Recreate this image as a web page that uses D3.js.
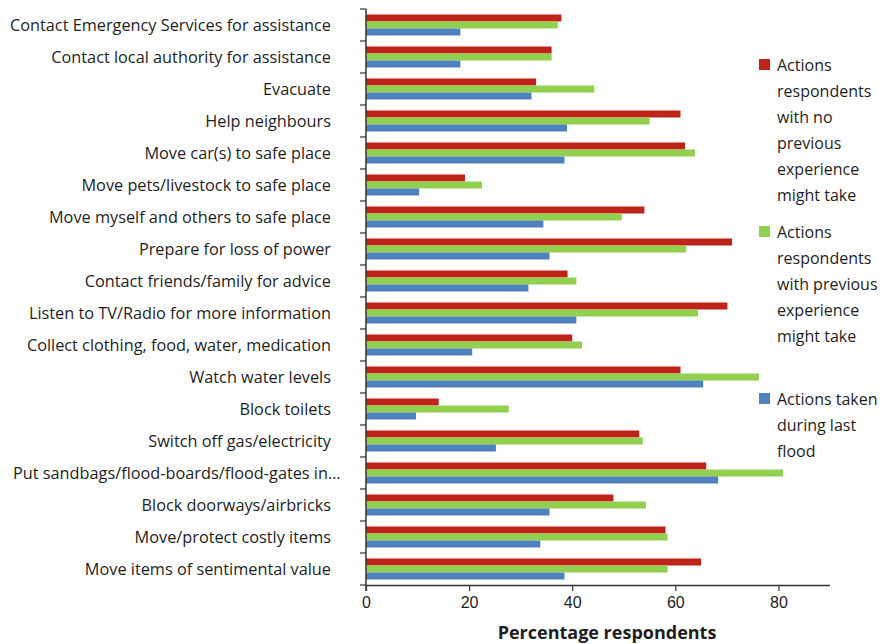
<!DOCTYPE html>
<html>
<head>
<meta charset="utf-8">
<script src="https://cdn.jsdelivr.net/npm/d3@7"></script>
<style>
  html, body { margin: 0; padding: 0; background: #fff; }
  svg { display: block; font-family: "Open Sans", Lato, sans-serif; }
</style>
</head>
<body>
<svg id="chart" width="886" height="644"></svg>
<script>
// Survey actions, listed top to bottom
const categories = [
  "Contact Emergency Services for assistance",
  "Contact local authority for assistance",
  "Evacuate",
  "Help neighbours",
  "Move car(s) to safe place",
  "Move pets/livestock to safe place",
  "Move myself and others to safe place",
  "Prepare for loss of power",
  "Contact friends/family for advice",
  "Listen to TV/Radio for more information",
  "Collect clothing, food, water, medication",
  "Watch water levels",
  "Block toilets",
  "Switch off gas/electricity",
  "Put sandbags/flood-boards/flood-gates in\u2026",
  "Block doorways/airbricks",
  "Move/protect costly items",
  "Move items of sentimental value"
];

// Percentage of respondents per series
const noExperience   = [37.9, 36.0, 33.0, 61.0, 61.9, 19.2, 54.0, 71.0, 39.1, 70.1, 40.0, 61.0, 14.1, 53.0, 66.0, 48.0, 58.1, 65.0];
const withExperience = [37.2, 36.0, 44.3, 55.0, 63.8, 22.5, 49.6, 62.1, 40.8, 64.4, 41.9, 76.2, 27.7, 53.7, 80.9, 54.3, 58.5, 58.5];
const lastFlood      = [18.3, 18.3, 32.1, 39.0, 38.5, 10.3, 34.4, 35.6, 31.5, 40.8, 20.6, 65.4,  9.7, 25.2, 68.3, 35.6, 33.8, 38.5];

const seriesNames = [
  "Actions respondents with no previous experience might take",
  "Actions respondents with previous experience might take",
  "Actions taken during last flood"
];
const legendLines = [
  ["Actions", "respondents", "with no", "previous", "experience", "might take"],
  ["Actions", "respondents", "with previous", "experience", "might take"],
  ["Actions taken", "during last", "flood"]
];
const xTicks = [0, 20, 40, 60, 80];
const xTitle = "Percentage respondents";

const colors = ["#C0231A", "#92D050", "#4F81BD"];
const seriesValues = [noExperience, withExperience, lastFlood];

const svg = d3.select("#chart");
const plot = { left: 366, right: 830, top: 9, bottom: 585 };
const textColor = "#1e1e1e";

const x = d3.scaleLinear().domain([0, 90]).range([plot.left, plot.right]);
const y = d3.scaleBand().domain(categories).range([plot.top, plot.bottom]).paddingInner(0).paddingOuter(0);
const barH = 7;
const inner = d3.scaleBand().domain([0, 1, 2]).range([0, barH * 3]);
const groupOffset = (y.bandwidth() - barH * 3) / 2;

const rows = categories.map((c, i) => ({ c, vals: seriesValues.map(s => s[i]) }));

// bars
const g = svg.append("g");
rows.forEach(r => {
  r.vals.forEach((v, k) => {
    g.append("rect")
      .attr("x", x(0))
      .attr("y", y(r.c) + groupOffset + inner(k))
      .attr("width", x(v) - x(0))
      .attr("height", inner.bandwidth())
      .attr("fill", colors[k]);
  });
});

// x axis
const xAxis = svg.append("g")
  .attr("transform", `translate(0,${plot.bottom})`)
  .call(d3.axisBottom(x).tickValues(xTicks).tickSize(6).tickPadding(6).tickFormat(d3.format("d")));
xAxis.select(".domain").attr("stroke", "#333").attr("stroke-width", 1.5)
  .attr("d", `M${plot.left},0.5H${plot.right}`);
xAxis.selectAll(".tick line").attr("stroke", "#333").attr("stroke-width", 1.2);
xAxis.selectAll(".tick text").attr("fill", textColor).style("font-size", "16px");

// y axis: ticks at category boundaries
const yAxis = svg.append("g").attr("transform", `translate(${plot.left},0)`);
yAxis.append("line")
  .attr("x1", 0).attr("x2", 0).attr("y1", plot.top).attr("y2", plot.bottom + 6)
  .attr("stroke", "#333").attr("stroke-width", 1.5);
const bounds = categories.map(c => y(c)).concat([plot.bottom]);
yAxis.selectAll("line.bt").data(bounds).join("line").attr("class", "bt")
  .attr("x1", -6).attr("x2", 0).attr("y1", d => d).attr("y2", d => d)
  .attr("stroke", "#333").attr("stroke-width", 1.2);

// category labels
const labelRight = 331;
const labels = svg.append("g").selectAll("text").data(categories).join("text")
  .attr("x", labelRight)
  .attr("y", d => y(d) + y.bandwidth() / 2)
  .attr("dy", "0.35em")
  .attr("text-anchor", "end")
  .attr("fill", textColor)
  .style("font-size", "16.3px")
  .text(d => d);
labels.each(function() {
  const w = this.getComputedTextLength();
  if (w > labelRight - 8) {
    d3.select(this).attr("text-anchor", "start").attr("x", 13);
  }
});

// axis title
svg.append("text")
  .attr("x", (plot.left + plot.right) / 2 + 9)
  .attr("y", 639)
  .attr("text-anchor", "middle")
  .attr("fill", textColor)
  .style("font-size", "18px")
  .style("font-weight", "bold")
  .text(xTitle);

// legend
const legendTops = [65, 232, 399];
const legend = svg.append("g");
legendLines.forEach((lines, k) => {
  legend.append("rect")
    .attr("x", 759).attr("y", legendTops[k] - 6)
    .attr("width", 11).attr("height", 11)
    .attr("fill", colors[k]);
  const t = legend.append("text")
    .attr("x", 777).attr("y", legendTops[k])
    .attr("fill", textColor)
    .style("font-size", "16px");
  lines.forEach((ln, j) => {
    t.append("tspan").attr("x", 777).attr("y", legendTops[k] + j * 26).attr("dy", "0.35em").text(ln);
  });
  t.append("title").text(seriesNames[k]);
});
</script>
</body>
</html>
